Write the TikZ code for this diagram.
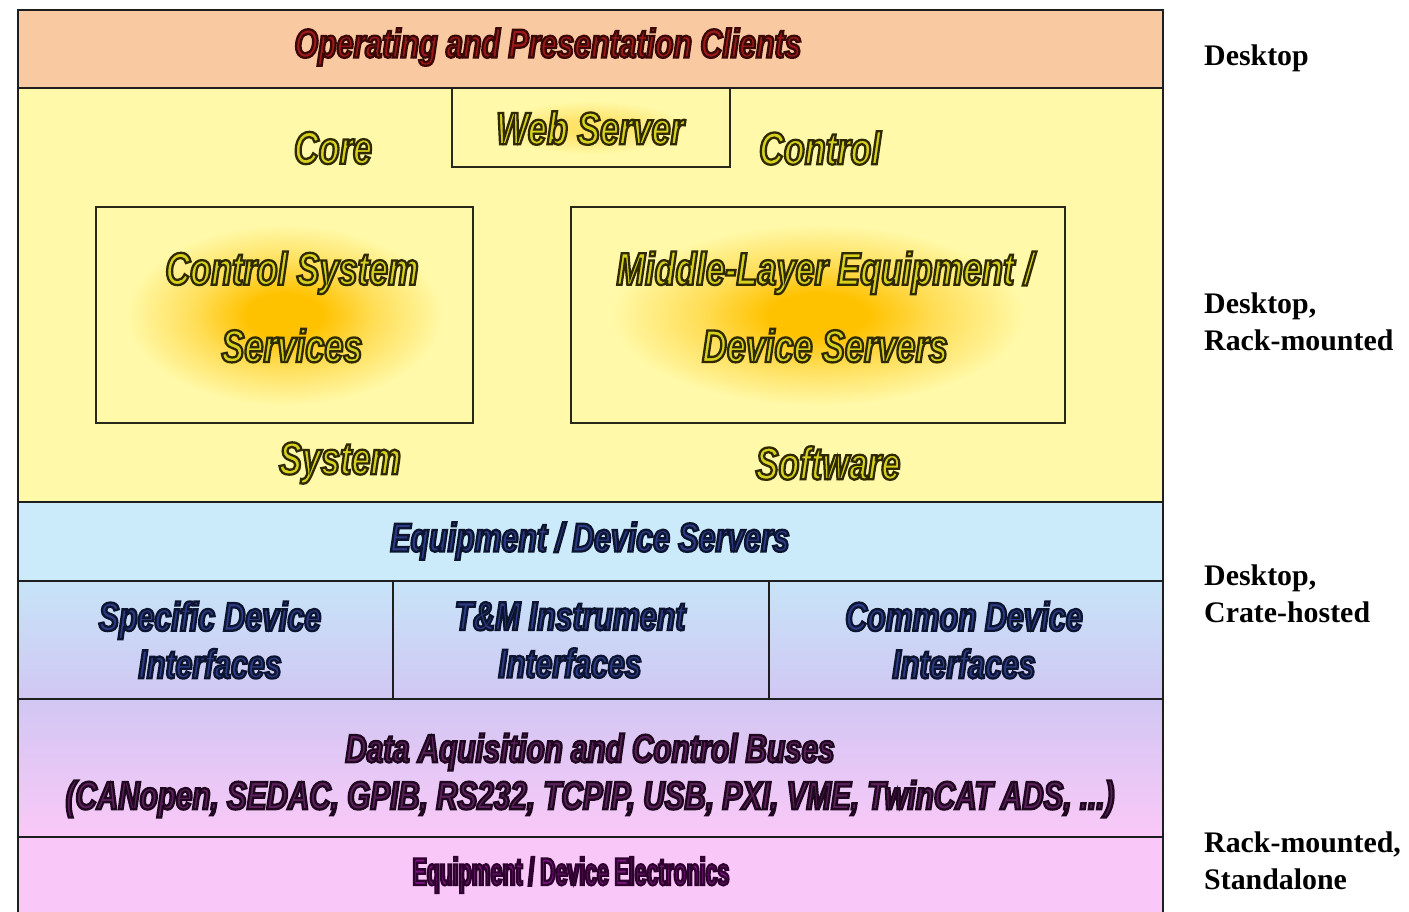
\documentclass[tikz,border=0pt]{standalone}
\usepackage{fontspec}
\setmainfont{Liberation Serif}
\newfontfamily\layerfont[FakeStretch=0.75]{Liberation Sans}
\newfontfamily\elecfont[FakeStretch=0.55]{Liberation Sans}
\newcommand{\outl}[2]{{\special{pdf:literal direct #1 RG 2 Tr 1.3 w}#2\special{pdf:literal direct 0 Tr}}}
\definecolor{bandpeach}{HTML}{F9C9A1}
\definecolor{bandyellow}{HTML}{FFF9A9}
\definecolor{bandblue}{HTML}{CCEBFA}
\definecolor{bandblue2}{HTML}{C6E4F8}
\definecolor{bandlilac}{HTML}{D1C7F3}
\definecolor{bandpink}{HTML}{FAC8F8}
\definecolor{glowcore}{HTML}{FFC200}
\definecolor{glowmid}{HTML}{FFDE58}
\definecolor{glowweb}{HTML}{FFE266}
\definecolor{framecol}{HTML}{1E1E1E}
\definecolor{txtred}{HTML}{9E1A1A}
\definecolor{txtyel}{HTML}{D8D21E}
\definecolor{txtblue}{HTML}{2C3C86}
\definecolor{txtplum}{HTML}{5C205C}
\definecolor{txtmag}{HTML}{7E1282}
\pgfdeclareradialshading{boxglow}{\pgfpoint{0bp}{0bp}}{color(0bp)=(glowcore); color(5bp)=(glowcore); color(12bp)=(glowmid); color(21bp)=(bandyellow); color(50bp)=(bandyellow)}
\pgfdeclareradialshading{webglow}{\pgfpoint{0bp}{0bp}}{color(0bp)=(glowweb); color(4bp)=(glowweb); color(17bp)=(bandyellow); color(50bp)=(bandyellow)}
\begin{document}
\begin{tikzpicture}[x=0.02cm, y=-0.02cm,
  frame/.style={draw=framecol, line width=1.4pt},
  box/.style={draw=framecol!90!olive, line width=1.1pt, shade},
  redtxt/.style={font=\layerfont\bfseries\itshape\fontsize{23}{28}\selectfont, text=txtred},
  yeltxt/.style={font=\layerfont\bfseries\itshape\fontsize{26}{44}\selectfont, text=txtyel, align=center},
  bluetxt/.style={font=\layerfont\bfseries\itshape\fontsize{23}{27}\selectfont, text=txtblue, align=center},
  plumtxt/.style={font=\layerfont\bfseries\itshape\fontsize{22.5}{27}\selectfont, text=txtplum, align=center},
  magtxt/.style={font=\elecfont\bfseries\fontsize{22}{27}\selectfont, text=txtmag},
  sidetxt/.style={font=\bfseries\fontsize{17}{21}\selectfont, align=left, anchor=west}]
\useasboundingbox (0,0) rectangle (1409,912);
\fill[white] (0,0) rectangle (1409,912);
\fill[bandpeach] (18,10) rectangle (1163,88);
\fill[bandyellow] (18,88) rectangle (1163,502);
\fill[bandblue] (18,502) rectangle (1163,581);
\shade[top color=bandblue2, bottom color=bandlilac] (18,581) rectangle (1163,699);
\shade[top color=bandlilac, bottom color=bandpink] (18,699) rectangle (1163,837);
\fill[bandpink] (18,837) rectangle (1163,920);
\path[box, shading=webglow] (452,88) rectangle (730,167);
\path[box, shading=boxglow] (96,207) rectangle (473,423);
\path[box, shading=boxglow] (571,207) rectangle (1065,423);
\foreach \y in {88,502,581,699,837}
  \draw[frame] (18,\y) -- (1163,\y);
\draw[frame] (393,581) -- (393,699);
\draw[frame] (769,581) -- (769,699);
\draw[frame] (18,920) -- (18,10) -- (1163,10) -- (1163,920);
\node[redtxt] (clients) at (548,47){\outl{0.23 0.03 0.03}{Operating and Presentation Clients}};
\node[yeltxt] (core) at (333,148){\outl{0.18 0.16 0}{Core}};
\node[yeltxt] (web) at (590,128){\outl{0.18 0.16 0}{Web Server}};
\node[yeltxt] (control) at (820,148){\outl{0.18 0.16 0}{Control}};
\node[yeltxt] (css) at (292,307){\outl{0.18 0.16 0}{Control System}\\\outl{0.18 0.16 0}{Services}};
\node[yeltxt] (mlds) at (825,307){\outl{0.18 0.16 0}{Middle-Layer Equipment /}\\\outl{0.18 0.16 0}{Device Servers}};
\node[yeltxt] (system) at (340,463){\outl{0.18 0.16 0}{System}};
\node[yeltxt] (software) at (828,463){\outl{0.18 0.16 0}{Software}};
\node[bluetxt] (eds) at (590,541){\outl{0.05 0.08 0.19}{Equipment / Device Servers}};
\node[bluetxt] (sdi) at (210,640){\outl{0.05 0.08 0.19}{Specific Device}\\\outl{0.05 0.08 0.19}{Interfaces}};
\node[bluetxt] (tmi) at (570,640){\outl{0.05 0.08 0.19}{T\&M Instrument}\\\outl{0.05 0.08 0.19}{Interfaces}};
\node[bluetxt] (cdi) at (964,640){\outl{0.05 0.08 0.19}{Common Device}\\\outl{0.05 0.08 0.19}{Interfaces}};
\node[plumtxt] (daq) at (590,752){\outl{0.12 0.03 0.12}{Data Aquisition and Control Buses}};
\node[plumtxt] (buses) at (590,799){\outl{0.12 0.03 0.12}{(CANopen, SEDAC, GPIB, RS232, TCPIP, USB, PXI, VME, TwinCAT ADS, ...)}};
\node[magtxt] (elec) at (571,875){\outl{0.18 0 0.18}{Equipment / Device Electronics}};
\node[sidetxt] (desk) at (1198,58){Desktop};
\node[sidetxt] (deskrack) at (1198,322){Desktop,\\Rack-mounted};
\node[sidetxt] (deskcrate) at (1198,594){Desktop,\\Crate-hosted};
\node[sidetxt] (rackstand) at (1198,861){Rack-mounted,\\Standalone};
\end{tikzpicture}
\end{document}
